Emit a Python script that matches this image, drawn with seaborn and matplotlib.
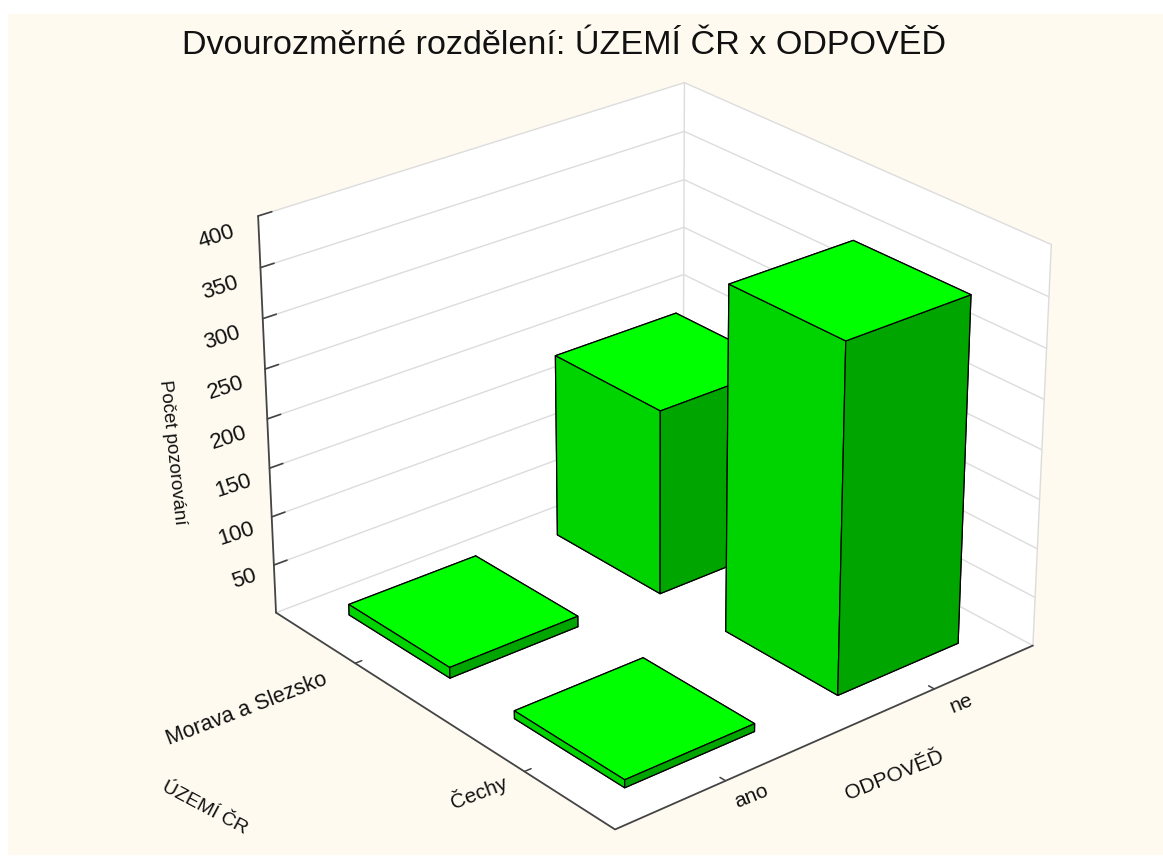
import numpy as np
import matplotlib
matplotlib.use("Agg")
import matplotlib.pyplot as plt
from matplotlib.patches import Rectangle
from mpl_toolkits.mplot3d.art3d import Poly3DCollection
import seaborn as sns

odpoved = ["ano", "ne"]
uzemi = ["Morava a Slezsko", "Čechy"]
morava_counts = [11, 190]
cechy_counts = [8, 350]
z_ticks = [50, 100, 150, 200, 250, 300, 350, 400]

W, H = 1163, 858
bg = "#FFFAF0"
# order of bar3d faces: -z, +z, -y, +y, -x, +x
bar_faces = ["#00A000", "#00FF00", "#00D400", "#00A000", "#00A000", "#00A500"]
grid_col = "#dcdcdc"
axis_col = "#444444"

sns.set_theme(style="white")
plt.rcParams["font.family"] = ["Liberation Sans", "DejaVu Sans"]

fig = plt.figure(figsize=(W / 100, H / 100), dpi=100, facecolor="white")
fig.add_artist(Rectangle((8 / W, 3 / H), 1 - 8 / W, 841 / H, transform=fig.transFigure,
                         facecolor=bg, edgecolor="none", zorder=-5))


def ftext(x, y, s, size=15, rot=0, **kw):
    # pixel position from the top left corner
    fig.text(x / W, 1 - y / H, s, fontsize=size, rotation=rot, ha="center", va="center",
             rotation_mode="anchor", color="#111111", **kw)


# square axes placed around the middle of the box
size = 870
cx, cy = 640, 446
ax = fig.add_axes([(cx - size / 2) / W, 1 - (cy + size / 2) / H, size / W, size / H],
                  projection="3d", computed_zorder=False)
ax.set_proj_type("persp", focal_length=0.9)
ax.view_init(elev=26.5, azim=-39.9)
ax.set_box_aspect((1, 1, 0.81))
ax.set_axis_off()
ax.patch.set_visible(False)
ax.set_xlim(-0.5, 1.5)
ax.set_ylim(-0.5, 1.5)
ax.set_zlim(0, 400)

x0, x1, y0, y1, z0, z1 = -0.5, 1.5, -0.5, 1.5, 0, 400
walls = [
    [(x0, y0, z0), (x1, y0, z0), (x1, y1, z0), (x0, y1, z0)],
    [(x0, y0, z0), (x0, y1, z0), (x0, y1, z1), (x0, y0, z1)],
    [(x0, y1, z0), (x1, y1, z0), (x1, y1, z1), (x0, y1, z1)],
]
ax.add_collection3d(Poly3DCollection(walls, facecolor="white", edgecolor="none", zorder=1))

for z in [0] + z_ticks:
    ax.plot([x0, x0, x1], [y0, y1, y1], [z, z, z], color=grid_col, lw=1, zorder=2)
ax.plot([x0, x0], [y1, y1], [0, 400], color=grid_col, lw=1, zorder=2)
ax.plot([x1, x1], [y1, y1], [0, 400], color=grid_col, lw=1, zorder=2)

# dark axes with the ticks
ax.plot([x0, x0], [y0, y0], [0, 400], color=axis_col, lw=1.3, zorder=3)
ax.plot([x0, x1, x1], [y0, y0, y1], [0, 0, 0], color=axis_col, lw=1.3, zorder=3)
for z in z_ticks:
    ax.plot([x0, x0], [y0, y0 + 0.06], [z, z], color=axis_col, lw=1.2, zorder=3)
for i in range(2):
    ax.plot([x1, x1 - 0.03], [i, i], [0, 0], color=axis_col, lw=1.1, zorder=3)
    ax.plot([i, i], [y0, y0 + 0.03], [0, 0], color=axis_col, lw=1.1, zorder=3)

bw, bd = 0.62, 0.6
for j, counts in enumerate([morava_counts, cechy_counts]):
    for i, v in enumerate(counts):
        # further bars first, camera is on the +x -y side
        ax.bar3d(j - bw / 2, i - bd / 2, 0, bw, bd, v, color=bar_faces, shade=False,
                 edgecolor="black", linewidth=0.9, zorder=10 + 2 * j - i)

ftext(564, 45, "Dvourozměrné rozdělení: ÚZEMÍ ČR x ODPOVĚĎ", size=24.6)

tick_px = [(244, 579), (236, 534), (233, 486), (229, 438), (226, 388), (222, 338), (220, 288), (216, 237)]
for (px, py), z in zip(tick_px, z_ticks):
    ftext(px, py, str(z), size=16, rot=18)
ftext(172, 452, "Počet pozorování", size=13.5, rot=-84)
ftext(247, 709, uzemi[0], size=15.5, rot=21)
ftext(479, 792, uzemi[1], rot=21)
ftext(205, 808, "ÚZEMÍ ČR", size=14, rot=-28)
ftext(751, 796, odpoved[0], rot=22)
ftext(961, 704, odpoved[1], rot=22)
ftext(894, 775, "ODPOVĚĎ", rot=22)

fig.savefig("out.png", dpi=100, facecolor=fig.get_facecolor())
